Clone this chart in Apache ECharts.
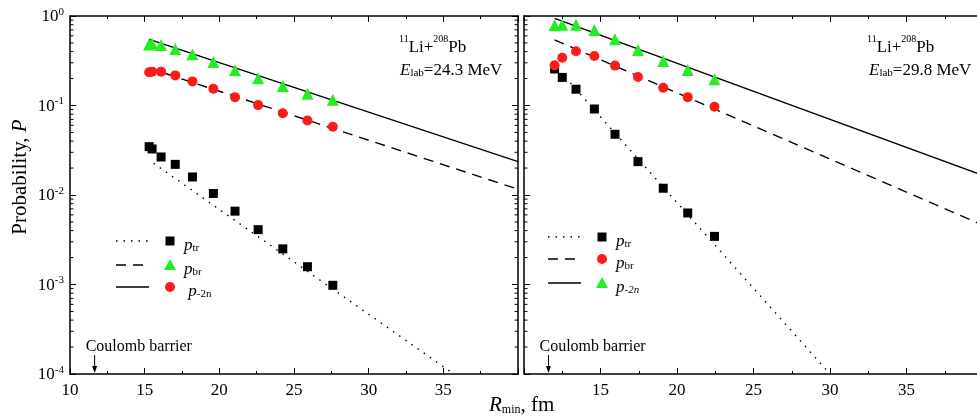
<!DOCTYPE html>
<html>
<head>
<meta charset="utf-8">
<script src="https://cdn.jsdelivr.net/npm/echarts@6/dist/echarts.min.js"></script>
<style>
  html, body, #main { width: 977px; height: 420px; margin: 0; background: #fff; }
</style>
</head>
<body>
<div id="main"></div>
<script>
// E_lab = 24.3 MeV (left panel)
var leftR = [15.3, 15.5, 16.1, 17.05, 18.2, 19.6, 21.05, 22.6, 24.25, 25.9, 27.6];
var leftTr = [0.0347, 0.0327, 0.0266, 0.0220, 0.0159, 0.0104, 0.0066, 0.0041, 0.0025, 0.00158, 0.00098];
var leftBr = [0.235, 0.239, 0.239, 0.217, 0.186, 0.154, 0.124, 0.101, 0.082, 0.068, 0.058];
var left2n = [0.48, 0.49, 0.474, 0.428, 0.373, 0.306, 0.247, 0.201, 0.165, 0.135, 0.116];
var leftFitTr = [[15.6, 0.0226], [35.7, 0.0001]];
var leftFitBr = [[15.3, 0.261], [40, 0.0116]];
var leftFit2n = [[15.3, 0.549], [40, 0.0236]];

// E_lab = 29.8 MeV (right panel)
var rightR = [12.0, 12.5, 13.4, 14.6, 15.95, 17.45, 19.1, 20.7, 22.45];
var rightTr = [0.256, 0.206, 0.152, 0.0914, 0.0477, 0.0236, 0.0119, 0.0063, 0.00345];
var rightBr = [0.281, 0.342, 0.403, 0.357, 0.279, 0.208, 0.158, 0.124, 0.097];
var right2n = [0.787, 0.80, 0.80, 0.698, 0.549, 0.417, 0.314, 0.249, 0.196];
var rightFitTr = [[12.7, 0.206], [30.0, 0.0001]];
var rightFitBr = [[12.0, 0.540], [40, 0.00459]];
var rightFit2n = [[12.0, 0.942], [40, 0.0165]];

var coulombBarrier = [11.65, 11.6];
var decades = [-4, -3, -2, -1];
var minorMantissas = [2, 3, 4, 5, 6, 7, 8, 9];

var FONT = 'Liberation Serif';
var GREEN = '#22ee22';
var RED = '#ff1a1a';

var chart = echarts.init(document.getElementById('main'));

function zip(xs, ys) {
  return xs.map(function (x, i) { return [x, ys[i]]; });
}

var minorVals = [];
decades.forEach(function (d) {
  minorMantissas.forEach(function (m) { minorVals.push([10, m * Math.pow(10, d)]); });
});

function expLabel(v) {
  var e = Math.round(Math.log10(v));
  return '{b|10}{s|' + e + '}';
}

function xAxisFor(grid, pos, showLabels, hideMin) {
  return {
    type: 'value', gridIndex: grid, position: pos,
    min: 10, max: 40, interval: 5,
    axisLine: { onZero: false, lineStyle: { color: '#000', width: 1.5 } },
    axisTick: { inside: true, length: 6, lineStyle: { color: '#000' } },
    minorTick: { show: true, splitNumber: 2, length: 3, lineStyle: { color: '#000' } },
    splitLine: { show: false },
    axisLabel: {
      show: showLabels, color: '#000', fontFamily: FONT, fontSize: 17, margin: 8,
      showMaxLabel: false, showMinLabel: !hideMin
    }
  };
}

function yAxisFor(grid, pos, showLabels) {
  return {
    type: 'log', logBase: 10, gridIndex: grid, position: pos,
    min: 0.0001, max: 1,
    axisLine: { lineStyle: { color: '#000', width: 1.5 } },
    axisTick: { inside: true, length: 6, lineStyle: { color: '#000' } },
    splitLine: { show: false },
    axisLabel: {
      show: showLabels, margin: 6, formatter: expLabel,
      rich: {
        b: { fontFamily: FONT, fontSize: 17, color: '#000', lineHeight: 19, verticalAlign: 'bottom' },
        s: { fontFamily: FONT, fontSize: 11, color: '#000', lineHeight: 19, verticalAlign: 'top' }
      }
    }
  };
}

function lineSeries(grid, data, type) {
  return {
    type: 'line', xAxisIndex: grid * 2, yAxisIndex: grid * 2, data: data,
    symbol: 'none', silent: true,
    lineStyle: { color: '#000', width: 1.4, type: type }
  };
}

function scatterSeries(grid, data, symbol, color, size) {
  return {
    type: 'scatter', xAxisIndex: grid * 2, yAxisIndex: grid * 2, data: data,
    symbol: symbol, symbolSize: size, itemStyle: { color: color, opacity: 1 }, z: 5
  };
}

function minorTickSeries(grid) {
  return {
    type: 'custom', xAxisIndex: grid * 2, yAxisIndex: grid * 2, data: minorVals,
    silent: true, z: 6,
    renderItem: function (params, api) {
      var v = api.value(1);
      var a = api.coord([10, v]);
      var b = api.coord([40, v]);
      var st = { stroke: '#000', lineWidth: 1 };
      return { type: 'group', children: [
        { type: 'line', shape: { x1: a[0], y1: a[1], x2: a[0] + 3.5, y2: a[1] }, style: st },
        { type: 'line', shape: { x1: b[0], y1: b[1], x2: b[0] - 3.5, y2: b[1] }, style: st }
      ] };
    }
  };
}

function barrierSeries(grid, x) {
  return {
    type: 'custom', xAxisIndex: grid * 2, yAxisIndex: grid * 2, data: [[x, 0.0001]],
    silent: true, z: 6,
    renderItem: function (params, api) {
      var p = api.coord([api.value(0), api.value(1)]);
      var st = { stroke: '#000', lineWidth: 1 };
      return { type: 'group', children: [
        { type: 'line', shape: { x1: p[0], y1: p[1] - 19, x2: p[0], y2: p[1] - 3 }, style: st },
        { type: 'polygon', shape: { points: [[p[0] - 2.5, p[1] - 8], [p[0] + 2.5, p[1] - 8], [p[0], p[1] - 1]] }, style: { fill: '#000' } },
        { type: 'text', x: p[0] - 9, y: p[1] - 27, style: {
          text: 'Coulomb barrier', font: '16px "' + FONT + '"', fill: '#000',
          align: 'left', verticalAlign: 'middle' } }
      ] };
    }
  };
}

var supRich = {
  n: { fontFamily: FONT, fontSize: 17, color: '#000', lineHeight: 22, verticalAlign: 'bottom' },
  i: { fontFamily: FONT, fontSize: 17, color: '#000', fontStyle: 'italic', lineHeight: 22, verticalAlign: 'bottom' },
  up: { fontFamily: FONT, fontSize: 10, color: '#000', lineHeight: 22, verticalAlign: 'top' },
  dn: { fontFamily: FONT, fontSize: 11, color: '#000', lineHeight: 16, verticalAlign: 'bottom' },
  dni: { fontFamily: FONT, fontSize: 11, color: '#000', fontStyle: 'italic', lineHeight: 16, verticalAlign: 'bottom' }
};

function textEl(x, y, text) {
  return { type: 'text', x: x, y: y, style: { text: text, rich: supRich, align: 'left', verticalAlign: 'middle' } };
}

function legendEls(x0, ys, dashes, symbols, labels) {
  var els = [];
  ys.forEach(function (y, i) {
    els.push({ type: 'line', shape: { x1: x0, y1: y, x2: x0 + 33, y2: y },
      style: { stroke: '#000', lineWidth: 1.4, lineDash: dashes[i] } });
    var s = symbols[i];
    var mx = x0 + 54;
    if (s === 'rect') {
      els.push({ type: 'rect', shape: { x: mx - 4.5, y: y - 4.5, width: 9, height: 9 }, style: { fill: '#000' } });
    } else if (s === 'circle') {
      els.push({ type: 'circle', shape: { cx: mx, cy: y, r: 5 }, style: { fill: RED } });
    } else {
      els.push({ type: 'polygon', shape: { points: [[mx - 6, y + 5], [mx + 6, y + 5], [mx, y - 6]] }, style: { fill: GREEN } });
    }
    els.push(textEl(x0 + 68, y + 2, labels[i]));
  });
  return els;
}

var option = {
  animation: false,
  backgroundColor: '#fff',
  grid: [
    { left: 70, top: 16, width: 448, height: 358, outerBoundsMode: 'none', containLabel: false },
    { left: 524, top: 16, width: 459, height: 358, outerBoundsMode: 'none', containLabel: false }
  ],
  xAxis: [
    xAxisFor(0, 'bottom', true, false),
    xAxisFor(0, 'top', false, false),
    xAxisFor(1, 'bottom', true, true),
    xAxisFor(1, 'top', false, false)
  ],
  yAxis: [
    yAxisFor(0, 'left', true),
    yAxisFor(0, 'right', false),
    yAxisFor(1, 'left', false),
    yAxisFor(1, 'right', false)
  ],
  series: [
    lineSeries(0, leftFitTr, [1.5, 6]),
    lineSeries(0, leftFitBr, [10, 7]),
    lineSeries(0, leftFit2n, 'solid'),
    scatterSeries(0, zip(leftR, leftTr), 'rect', '#000', 9),
    scatterSeries(0, zip(leftR, leftBr), 'circle', RED, 10),
    scatterSeries(0, zip(leftR, left2n), 'triangle', GREEN, 12),
    minorTickSeries(0),
    barrierSeries(0, coulombBarrier[0]),
    lineSeries(1, rightFitTr, [1.5, 6]),
    lineSeries(1, rightFitBr, [10, 7]),
    lineSeries(1, rightFit2n, 'solid'),
    scatterSeries(1, zip(rightR, rightTr), 'rect', '#000', 9),
    scatterSeries(1, zip(rightR, rightBr), 'circle', RED, 10),
    scatterSeries(1, zip(rightR, right2n), 'triangle', GREEN, 12),
    minorTickSeries(1),
    barrierSeries(1, coulombBarrier[1])
  ],
  graphic: [
    textEl(399, 45, '{up|11}{n|Li+}{up|208}{n|Pb}'),
    textEl(400, 68, '{i|E}{dn|lab}{n|=24.3 MeV}'),
    textEl(867, 45, '{up|11}{n|Li+}{up|208}{n|Pb}'),
    textEl(869, 68, '{i|E}{dn|lab}{n|=29.8 MeV}'),
    {
      type: 'text', x: 20, y: 177, rotation: Math.PI / 2,
      style: {
        text: '{n|Probability, }{i|P}', align: 'center', verticalAlign: 'middle',
        rich: {
          n: { fontFamily: FONT, fontSize: 21, color: '#000' },
          i: { fontFamily: FONT, fontSize: 21, color: '#000', fontStyle: 'italic' }
        }
      }
    },
    {
      type: 'text', x: 489, y: 404,
      style: {
        text: '{i|R}{s|min}{n|, fm}', align: 'left', verticalAlign: 'middle',
        rich: {
          i: { fontFamily: FONT, fontSize: 21, fontStyle: 'italic', color: '#000', lineHeight: 24, verticalAlign: 'bottom' },
          s: { fontFamily: FONT, fontSize: 12, color: '#000', lineHeight: 14, verticalAlign: 'bottom' },
          n: { fontFamily: FONT, fontSize: 21, color: '#000', lineHeight: 24, verticalAlign: 'bottom' }
        }
      }
    }
  ].concat(
    legendEls(116, [241, 265, 287], [[1.5, 6], [10, 7], null], ['rect', 'triangle', 'circle'],
      ['{i|p}{dn|tr}', '{i|p}{dn|br}', '{i| p}{dn|-2n}']),
    legendEls(548, [237, 259, 283], [[1.5, 6], [10, 7], null], ['rect', 'circle', 'triangle'],
      ['{i|p}{dn|tr}', '{i|p}{dn|br}', '{i|p}{dni|-2n}'])
  )
};

chart.setOption(option);
</script>
</body>
</html>
